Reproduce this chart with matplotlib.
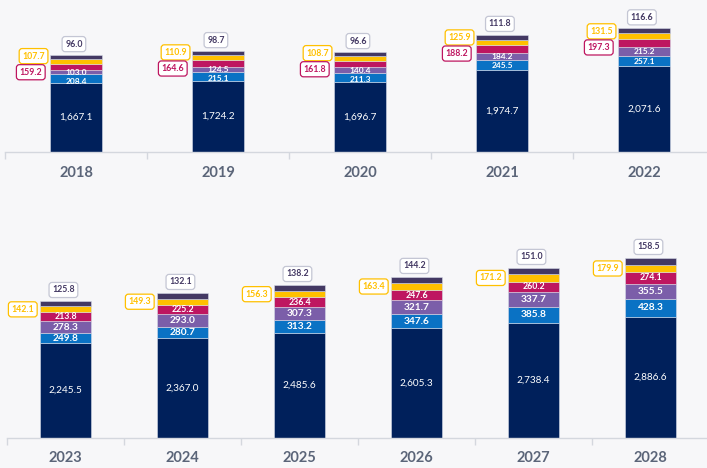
import matplotlib
matplotlib.use("Agg")
import matplotlib.pyplot as plt
import numpy as np

plt.rcParams['font.family'] = ['Lato', 'DejaVu Sans']

years_top = ['2018', '2019', '2020', '2021', '2022']
navy_top = [1667.1, 1724.2, 1696.7, 1974.7, 2071.6]
blue_top = [208.4, 215.1, 211.3, 245.5, 257.1]
purple_top = [103.0, 124.5, 140.4, 184.2, 215.2]
crimson_top = [159.2, 164.6, 161.8, 188.2, 197.3]
yellow_top = [107.7, 110.9, 108.7, 125.9, 131.5]
cap_top = [96.0, 98.7, 96.6, 111.8, 116.6]

years_bot = ['2023', '2024', '2025', '2026', '2027', '2028']
navy_bot = [2245.5, 2367.0, 2485.6, 2605.3, 2738.4, 2886.6]
blue_bot = [249.8, 280.7, 313.2, 347.6, 385.8, 428.3]
purple_bot = [278.3, 293.0, 307.3, 321.7, 337.7, 355.5]
crimson_bot = [213.8, 225.2, 236.4, 247.6, 260.2, 274.1]
yellow_bot = [142.1, 149.3, 156.3, 163.4, 171.2, 179.9]
cap_bot = [125.8, 132.1, 138.2, 144.2, 151.0, 158.5]

BG = '#f7f7f9'
NAVY = '#00205b'
BLUE = '#0a72c4'
PURPLE = '#7b5ea9'
CRIMSON = '#be1660'
YELLOW = '#ffc000'
CAP = '#433863'
CAP_EDGE = '#c4c6d4'
YEAR_C = '#5b6579'

W, H = 707, 468
fig = plt.figure(figsize=(W / 100, H / 100), dpi=100, facecolor=BG)


def px_axes(left, bottom, right, top):
    # pixel box (origin top-left) -> figure fraction
    return [left / W, 1 - bottom / H, (right - left) / W, (bottom - top) / H]


def panel(rect, years, series, ymax, width, crimson_inside, inner_fs, crimson_fs):
    ax = fig.add_axes(rect)
    ax.set_facecolor(BG)
    px_per_unit = rect[3] * H / ymax
    n = len(years)
    x = np.arange(n)
    colors = [NAVY, BLUE, PURPLE, CRIMSON, YELLOW, CAP]
    bottoms = np.zeros(n)
    segs = []
    for vals, c in zip(series, colors):
        vals = np.array(vals)
        ax.bar(x, vals, width, bottom=bottoms, color=c,
               edgecolor='#d6dbe8', linewidth=0.4, zorder=2)
        segs.append((bottoms.copy(), vals))
        bottoms = bottoms + vals

    navy, blue, purple, crimson, yellow, cap = segs
    for i in range(n):
        ax.text(x[i], navy[0][i] + navy[1][i] / 2, f'{navy[1][i]:,.1f}',
                ha='center', va='center', color='white', fontsize=7.2, zorder=3)
        # keep the blue and purple labels apart on thin segments
        gap = (blue[1][i] + purple[1][i]) / 2 * px_per_unit
        push = max(0.0, 9.0 - gap) * 0.72
        ax.annotate(f'{blue[1][i]:,.1f}', (x[i], blue[0][i] + blue[1][i] / 2),
                    xytext=(0, -push), textcoords='offset points',
                    ha='center', va='center', color='white', fontsize=inner_fs,
                    fontweight='bold', zorder=3)
        ax.text(x[i], purple[0][i] + purple[1][i] / 2, f'{purple[1][i]:,.1f}',
                ha='center', va='center', color='white', fontsize=inner_fs,
                fontweight='bold', zorder=3)
        left = x[i] - width / 2
        ymid = yellow[0][i] + yellow[1][i] / 2
        cmid = crimson[0][i] + crimson[1][i] / 2
        box = dict(boxstyle='round,pad=0.35,rounding_size=0.35', fc='white', lw=0.9)
        if crimson_inside:
            ax.text(x[i], cmid, f'{crimson[1][i]:,.1f}', ha='center', va='center',
                    color='white', fontsize=crimson_fs, fontweight='bold', zorder=3)
            ax.annotate(f'{yellow[1][i]:,.1f}', (left, ymid), xytext=(-4.5, 0),
                        textcoords='offset points', ha='right', va='center',
                        color=YELLOW, fontsize=6.3, fontweight='bold',
                        bbox=dict(box, ec=YELLOW), zorder=4)
        else:
            mid = (ymid + cmid) / 2
            ax.annotate(f'{yellow[1][i]:,.1f}', (left, mid), xytext=(-3.5, 5.8),
                        textcoords='offset points', ha='right', va='center',
                        color=YELLOW, fontsize=6.3, fontweight='bold',
                        bbox=dict(box, ec=YELLOW), zorder=4)
            ax.annotate(f'{crimson[1][i]:,.1f}', (left, mid), xytext=(-5.5, -5.8),
                        textcoords='offset points', ha='right', va='center',
                        color=CRIMSON, fontsize=6.3, fontweight='bold',
                        bbox=dict(box, ec=CRIMSON), zorder=4)
        ax.annotate(f'{cap[1][i]:,.1f}', (x[i], bottoms[i]), xytext=(-1.5, 8),
                    textcoords='offset points', ha='center', va='center',
                    color=CAP, fontsize=6.3, fontweight='bold',
                    bbox=dict(box, ec=CAP_EDGE), zorder=4)

    ax.set_xlim(-0.5, n - 0.5)
    ax.set_ylim(0, ymax)
    for s in ('top', 'right', 'left'):
        ax.spines[s].set_visible(False)
    ax.spines['bottom'].set_color('#d4d7de')
    ax.spines['bottom'].set_linewidth(1.0)
    ax.set_yticks([])
    ax.set_xticks(x)
    ax.set_xticklabels(years, fontsize=10.5, fontweight='bold', color=YEAR_C)
    ax.tick_params(axis='x', which='major', length=0, pad=10)
    ax.set_xticks(np.arange(n + 1) - 0.5, minor=True)
    ax.tick_params(axis='x', which='minor', length=5, color='#d4d7de', width=1)
    return ax


panel(px_axes(5, 152, 715, 28), years_top,
      [navy_top, blue_top, purple_top, crimson_top, yellow_top, cap_top],
      3000, 0.37, False, 6.0, 6.0)
panel(px_axes(7, 437.5, 709, 228), years_bot,
      [navy_bot, blue_bot, purple_bot, crimson_bot, yellow_bot, cap_bot],
      5000, 0.43, True, 7.3, 6.3)

fig.savefig('out.png', dpi=100, facecolor=BG)
